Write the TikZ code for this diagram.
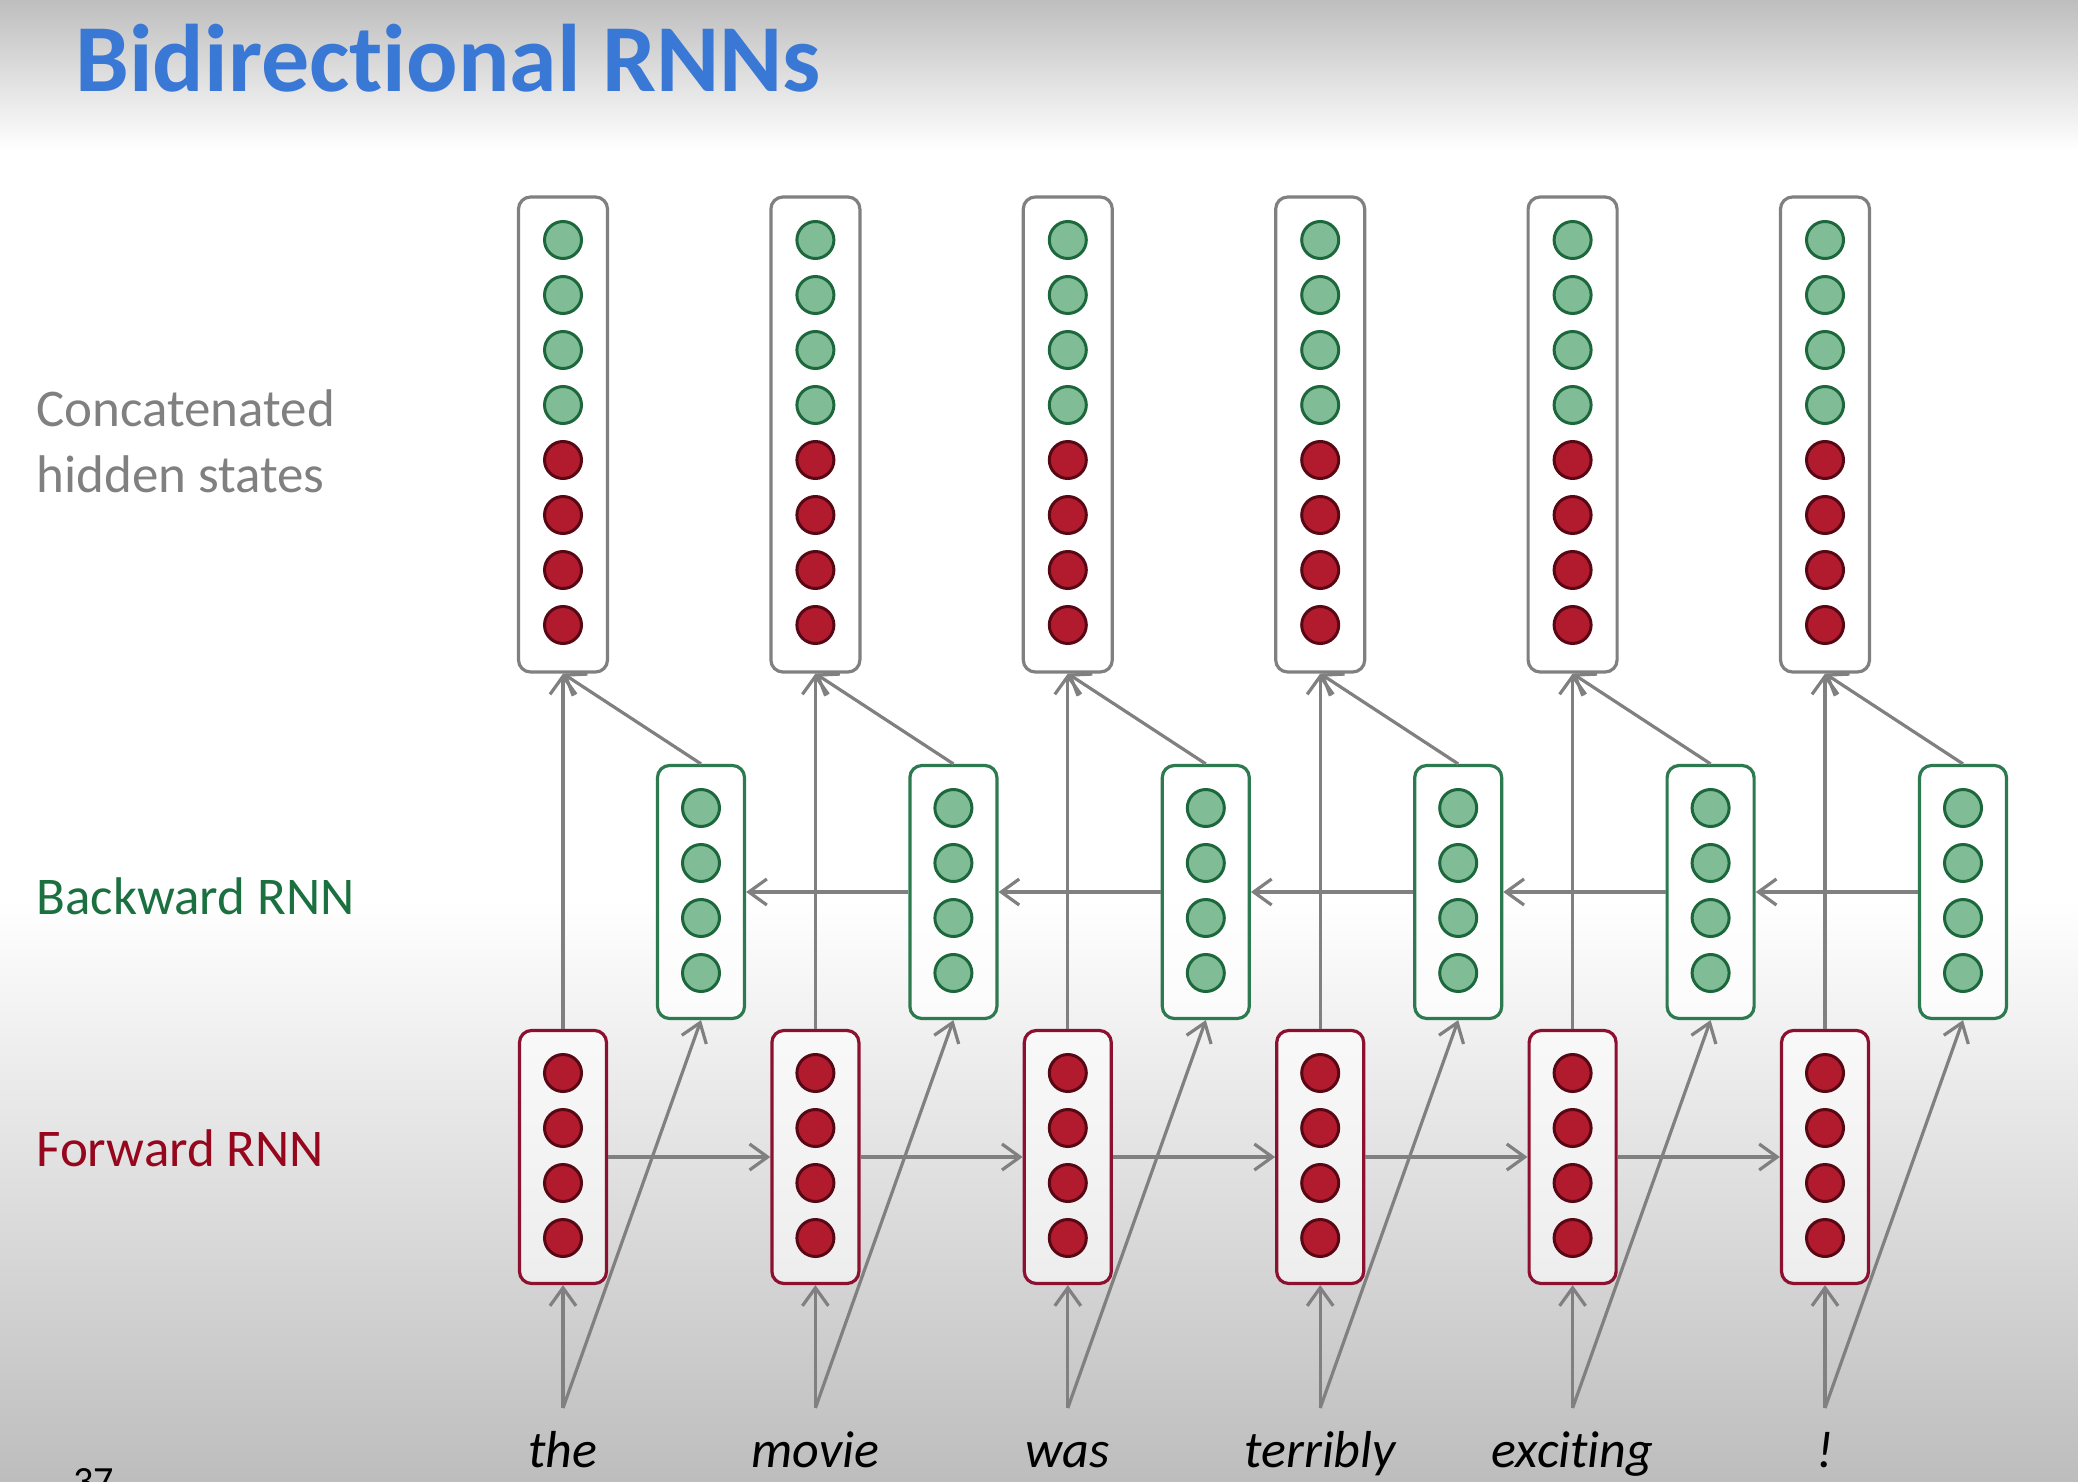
\documentclass[tikz,border=0pt]{standalone}
\usepackage{fontspec}
\setmainfont{Carlito}[Ligatures=NoCommon]
\usetikzlibrary{arrows.meta}

\definecolor{titleblue}{RGB}{58,120,214}
\definecolor{lblgray}{RGB}{128,128,128}
\definecolor{bwtext}{RGB}{26,112,62}
\definecolor{fwtext}{RGB}{150,6,28}
\definecolor{edgegray}{RGB}{128,128,128}
\definecolor{cellgreen}{RGB}{128,188,150}
\definecolor{cellgreenline}{RGB}{28,104,60}
\definecolor{cellred}{RGB}{178,26,46}
\definecolor{cellredline}{RGB}{88,8,20}
\definecolor{bwbox}{RGB}{46,122,80}
\definecolor{fwbox}{RGB}{140,16,48}
\definecolor{topgray}{RGB}{190,190,190}
\definecolor{botgray}{RGB}{189,189,189}

\begin{document}
\begin{tikzpicture}[x=0.5pt,y=-0.5pt,
  concatbox/.style={draw=edgegray, line width=1.6pt, rounded corners=6pt, fill=white,
    minimum width=44.5pt, minimum height=237.5pt, inner sep=0pt},
  bwrnn/.style={draw=bwbox, line width=1.6pt, rounded corners=6pt, fill=white, fill opacity=0.75,
    minimum width=43.5pt, minimum height=126.5pt, inner sep=0pt},
  fwrnn/.style={draw=fwbox, line width=1.6pt, rounded corners=6pt, fill=white, fill opacity=0.6,
    minimum width=43.5pt, minimum height=126.5pt, inner sep=0pt},
  gcell/.style={circle, draw=cellgreenline, fill=cellgreen, line width=1.5pt, minimum size=18.5pt, inner sep=0pt},
  rcell/.style={circle, draw=cellredline, fill=cellred, line width=1.5pt, minimum size=18.5pt, inner sep=0pt},
  link/.style={draw=edgegray, line width=1.6pt, -{Straight Barb[length=9pt,width=13pt]}},
  word/.style={font=\fontsize{26}{31}\selectfont\itshape, anchor=base, inner sep=0pt},
  lbl/.style={font=\fontsize{26.5}{33}\selectfont, anchor=base west, inner sep=0pt}
]
% page and background
\useasboundingbox (0,0) rectangle (2078,1482);
\clip (0,0) rectangle (2078,1482);
\fill[white] (0,0) rectangle (2078,1482);
\shade[top color=topgray, bottom color=white] (0,0) rectangle (2078,150);
\shade[top color=white, bottom color=botgray] (0,900) rectangle (2078,1482);

% title and row labels
\node[anchor=base west, inner sep=0pt, font=\fontsize{48}{58}\selectfont\bfseries, text=titleblue]
  (title) at (75,92) {Bidirectional RNNs};
\node[lbl, text=lblgray] (lblcat) at (36,426) {Concatenated};
\node[lbl, text=lblgray] (lblhid) at (36,492) {hidden states};
\node[lbl, text=bwtext] (lblbw) at (36,914) {Backward RNN};
\node[lbl, text=fwtext] (lblfw) at (36,1166) {Forward RNN};
\node[anchor=base west, inner sep=0pt, font=\fontsize{20}{24}\selectfont] (pgnum) at (73,1494) {37};

% one column per time step
\foreach \i/\w in {0/the,1/movie,2/was,3/terribly,4/exciting,5/!} {
  \pgfmathsetmacro\xc{563+252.4*\i}
  \pgfmathsetmacro\xb{\xc+138}
  \node[concatbox] (c\i) at (\xc,434.5) {};
  \foreach \k in {0,...,3} \node[gcell] (c\i-\k) at (\xc,240+55*\k) {};
  \foreach \k in {4,...,7} \node[rcell] (c\i-\k) at (\xc,240+55*\k) {};
  \node[bwrnn] (b\i) at (\xb,892) {};
  \foreach \k in {0,...,3} \node[gcell] (b\i-\k) at (\xb,808+55*\k) {};
  \node[fwrnn] (f\i) at (\xc,1157) {};
  \foreach \k in {0,...,3} \node[rcell] (f\i-\k) at (\xc,1073+55*\k) {};
  \node[word] (w\i) at (\xc,1467) {\w};
  \coordinate (in\i) at (\xc,1408);
}

% connections within each time step
\foreach \i in {0,...,5} {
  \draw[link] (f\i.north) -- (c\i.south);
  \draw[link] (b\i.north) -- (c\i.south);
  \draw[link] (in\i) -- (f\i.south);
  \draw[link] (in\i) -- (b\i.south);
}
% recurrent connections
\foreach \i [evaluate=\i as \j using int(\i+1)] in {0,...,4} {
  \draw[link] (f\i.east) -- (f\j.west);
  \draw[link] (b\j.west) -- (b\i.east);
}
\end{tikzpicture}
\end{document}
